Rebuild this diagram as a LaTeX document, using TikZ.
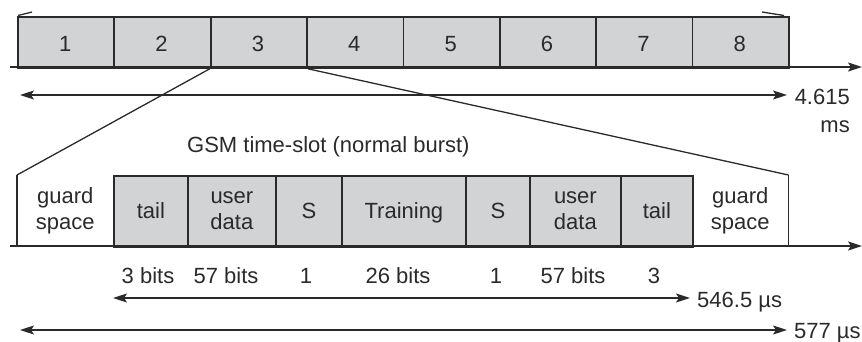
\documentclass[tikz,border=0pt]{standalone}
\usepackage{fontspec}
\setmainfont{Liberation Sans}
\usetikzlibrary{arrows.meta}
\definecolor{ink}{HTML}{2A2A2A}
\definecolor{cellgray}{HTML}{D2D3D5}
\tikzset{
  cell/.style={draw=ink, line width=1.8pt, fill=cellgray, minimum height=51pt, inner sep=0pt, anchor=north west},
  burstcell/.style={draw=ink, line width=1.8pt, fill=cellgray, minimum height=71pt, inner sep=0pt, anchor=north west},
  guardcell/.style={minimum height=71pt, inner sep=0pt, anchor=north west},
  lbl/.style={text=ink, inner sep=0pt, anchor=base, font=\fontsize{22}{26}\selectfont},
  axis/.style={draw=ink, line width=1.8pt, -{Stealth[length=14pt,width=9pt,inset=3pt]}},
  span/.style={draw=ink, line width=1.4pt, {Stealth[length=14pt,width=9pt,inset=3pt]}-{Stealth[length=14pt,width=9pt,inset=3pt]}},
  zoomline/.style={draw=ink, line width=1.3pt},
}
\begin{document}
\begin{tikzpicture}[x=1pt,y=-1pt]
\useasboundingbox (0,0) rectangle (862,342);

% ---- TDMA frame: eight time slots ----
\foreach \i in {1,...,8} {
  \node[cell, minimum width=96.4pt] (s\i) at ({17+96.375*(\i-1)},16) {};
  \node[lbl] (n\i) at ({17+96.375*(\i-0.5)},52) {\i};
}
\coordinate (ta) at (10,67);
\coordinate (tb) at (862,67);
\draw[axis] (ta) -- (tb);

% fragments of arrows leaving the frame above
\coordinate (fl1) at (18,15.5); \coordinate (fl2) at (32,12);
\coordinate (fr1) at (762,12);  \coordinate (fr2) at (784,15.5);
\draw[zoomline] (fl1) -- (fl2);
\draw[zoomline] (fr1) -- (fr2);

% frame duration
\coordinate (fa) at (20,95);
\coordinate (fb) at (787,95);
\draw[span] (fa) -- (fb);
\node[lbl, anchor=base east] (fdur) at (850,105) {4.615};
\node[lbl, anchor=base east] (funit) at (850,132) {ms};

% ---- normal burst ----
\node[lbl, anchor=base west] (title) at (187,153) {GSM time-slot (normal burst)};

\node[guardcell, minimum width=96pt] (gl) at (17,175) {};
\node[burstcell, minimum width=74pt] (b1) at (113,175) {};
\node[burstcell, minimum width=88pt] (b2) at (187,175) {};
\node[burstcell, minimum width=66pt] (b3) at (275,175) {};
\node[burstcell, minimum width=124pt] (b4) at (341,175) {};
\node[burstcell, minimum width=64pt] (b5) at (465,175) {};
\node[burstcell, minimum width=91pt] (b6) at (529,175) {};
\node[burstcell, minimum width=72pt] (b7) at (620,175) {};
\node[guardcell, minimum width=96pt] (gr) at (692,175) {};
\draw[draw=ink, line width=1.8pt] (gl.north west) -- (gl.south west);
\draw[draw=ink, line width=1.8pt] (gr.north east) -- (gr.south east);

% cell texts
\node[lbl] (tg1) at (gl.center |- 0,203) {guard};
\node[lbl] (tg2) at (gl.center |- 0,229) {space};
\node[lbl] (t1) at (b1.center |- 0,218) {tail};
\node[lbl] (t2a) at (b2.center |- 0,203) {user};
\node[lbl] (t2b) at (b2.center |- 0,229) {data};
\node[lbl] (t3) at (b3.center |- 0,218) {S};
\node[lbl] (t4) at (b4.center |- 0,218) {Training};
\node[lbl] (t5) at (b5.center |- 0,218) {S};
\node[lbl] (t6a) at (b6.center |- 0,203) {user};
\node[lbl] (t6b) at (b6.center |- 0,229) {data};
\node[lbl] (t7) at (b7.center |- 0,218) {tail};
\node[lbl] (tg3) at (gr.center |- 0,203) {guard};
\node[lbl] (tg4) at (gr.center |- 0,229) {space};

% time axis of the burst
\coordinate (ba) at (10,246);
\coordinate (bb) at (862,246);
\draw[axis] (ba) -- (bb);

% zoom lines from slot 3 to the burst
\draw[zoomline] (s3.south west) -- (gl.north west);
\draw[zoomline] (s3.south east) -- (gr.north east);

% bit counts
\node[lbl] (c1) at (148,283) {3 bits};
\node[lbl] (c2) at (226,283) {57 bits};
\node[lbl] (c3) at (306,283) {1};
\node[lbl] (c4) at (398,283) {26 bits};
\node[lbl] (c5) at (496,283) {1};
\node[lbl] (c6) at (573,283) {57 bits};
\node[lbl] (c7) at (654,283) {3};

% burst durations
\coordinate (da) at (113,298);
\coordinate (db) at (690,298);
\draw[span] (da) -- (db);
\node[lbl, anchor=base west] (d1) at (697,307) {546.5 µs};
\coordinate (ea) at (20,330);
\coordinate (eb) at (787,330);
\draw[span] (ea) -- (eb);
\node[lbl, anchor=base west] (d2) at (794,338) {577 µs};
\end{tikzpicture}
\end{document}
